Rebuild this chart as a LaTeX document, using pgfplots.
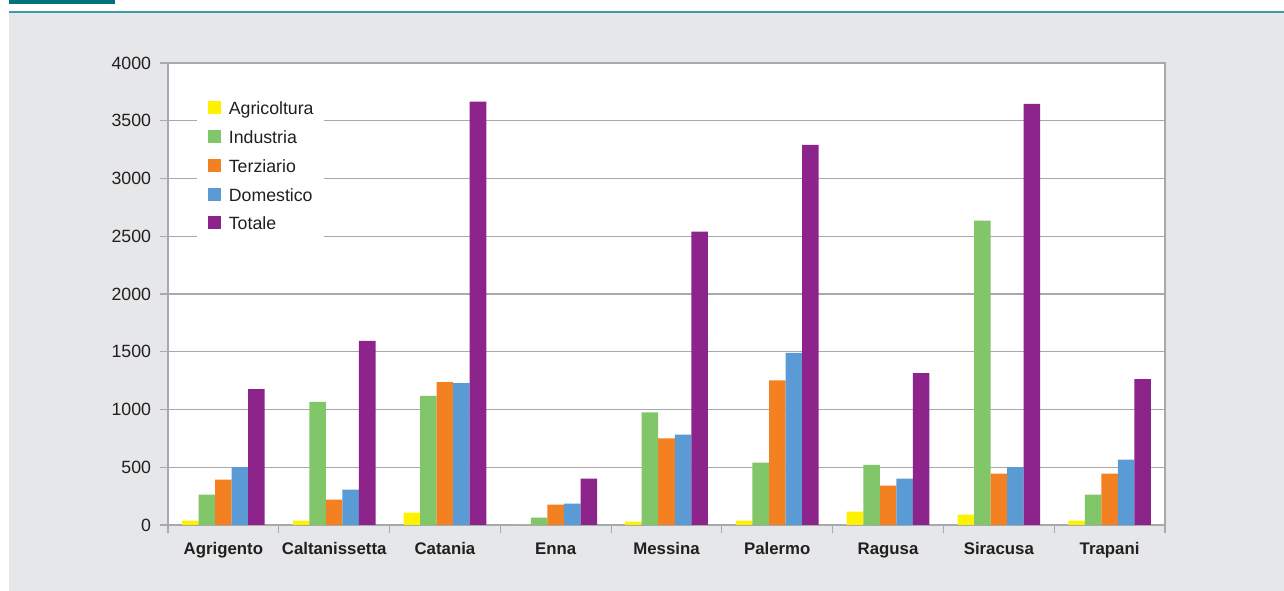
\documentclass[border=0pt]{standalone}
\usepackage{fontspec}
\setmainfont{Liberation Sans}
\usepackage{pgfplots}
\pgfplotsset{compat=1.18}

\definecolor{bggray}{HTML}{E6E7E8}
\definecolor{axgray}{HTML}{A7A9AC}
\definecolor{txt}{HTML}{231F20}
\definecolor{teal1}{HTML}{00707B}
\definecolor{teal2}{HTML}{3E9BA3}
\definecolor{cagr}{HTML}{FFF200}
\definecolor{cind}{HTML}{82C66A}
\definecolor{cter}{HTML}{F38121}
\definecolor{cdom}{HTML}{5B9BD5}
\definecolor{ctot}{HTML}{8C248B}

\begin{document}
\begin{tikzpicture}[x=0.75pt,y=0.75pt]
\useasboundingbox (0,0) rectangle (1284,591);
\fill[white] (0,0) rectangle (1284,591);
\fill[bggray] (9,0) rectangle (1284,578);
\fill[teal1] (9,587) rectangle (115,591);
\draw[teal2, line width=1.5pt] (9,578.5) -- (1284,578.5);

\begin{axis}[
  scale only axis,
  width=747.75pt, height=346.5pt,
  at={(126pt,49.5pt)}, anchor=south west,
  axis background/.style={fill=white},
  ybar=0pt, bar width=12.4pt,
  xmin=-0.5, xmax=8.5,
  ymin=0, ymax=4000,
  ytick={0,500,...,4000},
  xtick={0,...,8},
  xticklabels={Agrigento,Caltanissetta,Catania,Enna,Messina,Palermo,Ragusa,Siracusa,Trapani},
  xtick style={draw=none},
  extra x ticks={-0.5,0.5,...,8.5},
  extra x tick labels={},
  extra x tick style={grid=none, xtick style={draw=axgray, line width=0.9pt}},
  tick align=outside, tick pos=left,
  major tick length=6pt,
  ytick style={draw=axgray, line width=0.9pt},
  ymajorgrids,
  grid style={axgray, line width=0.9pt},
  axis line style={axgray, line width=1.1pt},
  /pgf/number format/1000 sep={},
  /pgf/number format/assume math mode=true,
  yticklabel style={font=\fontsize{13.3}{15}\selectfont, text=txt, inner sep=0pt, xshift=-6.5pt},
  xticklabel style={font=\fontsize{12.6}{15}\selectfont\bfseries, text=txt, inner sep=0pt, text height=9pt, yshift=-7pt},
  legend cell align=left,
  legend image code/.code={\fill[#1,draw=none] (0pt,-4.5pt) rectangle (9.75pt,5.25pt);},
  legend style={
    at={(0.029,0.942)}, anchor=north west,
    draw=none, fill=white,
    font=\fontsize{13.3}{15}\selectfont, text=txt,
    inner xsep=8pt, inner ysep=8.5pt,
    nodes={inner sep=0pt, text height=9.75pt, text depth=0pt},
    row sep=11.45pt,
    /tikz/every odd column/.append style={column sep=6pt},
  },
]
\addplot[fill=cagr, draw=none] coordinates {(0,37) (1,37) (2,107) (3,0) (4,29) (5,37) (6,115) (7,89) (8,37)};
\addplot[fill=cind, draw=none] coordinates {(0,263) (1,1065) (2,1117) (3,63) (4,974) (5,540) (6,521) (7,2636) (8,263)};
\addplot[fill=cter, draw=none] coordinates {(0,393) (1,219) (2,1237) (3,176) (4,749) (5,1252) (6,341) (7,445) (8,445)};
\addplot[fill=cdom, draw=none] coordinates {(0,500) (1,306) (2,1229) (3,185) (4,783) (5,1490) (6,401) (7,500) (8,566)};
\addplot[fill=ctot, draw=none] coordinates {(0,1177) (1,1595) (2,3665) (3,401) (4,2541) (5,3292) (6,1315) (7,3647) (8,1263)};
\legend{Agricoltura,Industria,Terziario,Domestico,Totale}
\end{axis}
\end{tikzpicture}
\end{document}
